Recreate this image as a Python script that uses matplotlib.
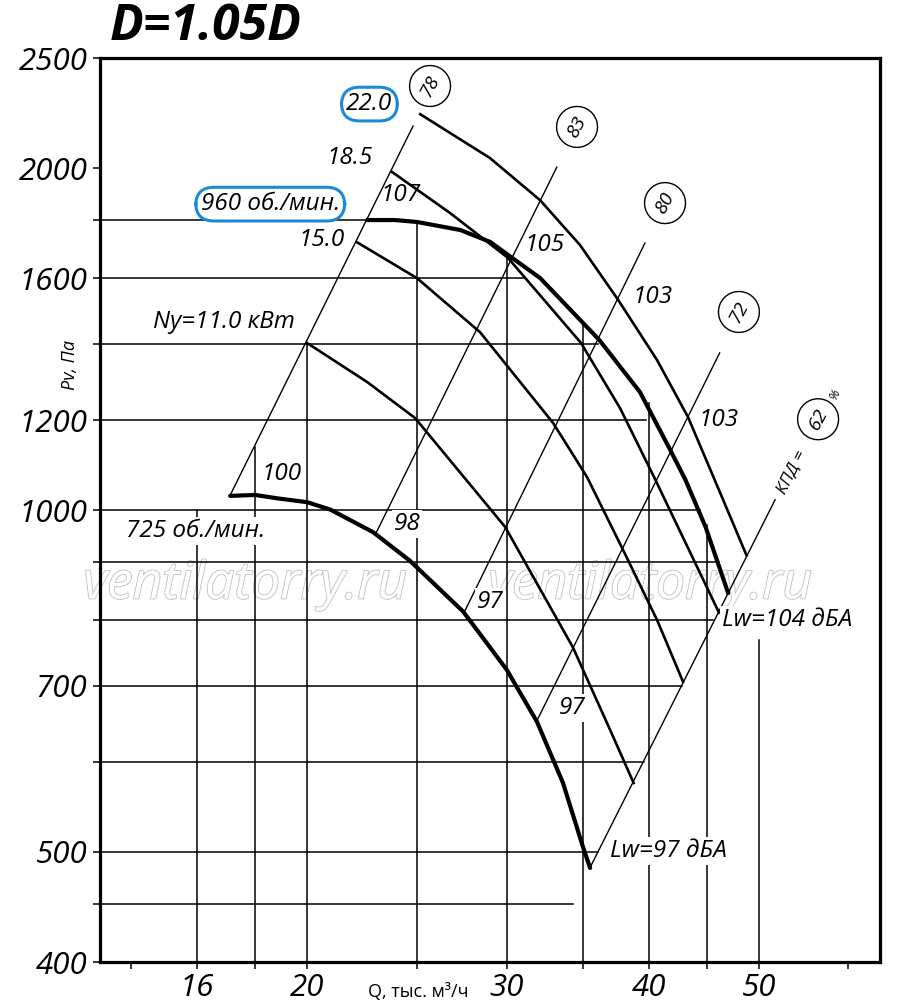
import matplotlib
matplotlib.use('Agg')
import matplotlib.pyplot as plt
import matplotlib.patheffects as pe
from matplotlib.ticker import FixedLocator, FixedFormatter, NullLocator

plt.rcParams['font.family'] = ['Open Sans', 'DejaVu Sans']
plt.rcParams['font.style'] = 'italic'

# fan curves: Q (thousand m3/h) vs Pv (Pa)
q_22 = [25.16, 28.99, 32.09, 34.80, 37.60, 40.69, 43.33, 46.52, 48.79]
p_22 = [2231, 2041, 1874, 1711, 1531, 1355, 1207, 1021, 912]
q_185 = [23.77, 26.73, 30.07, 34.87, 37.75, 40.44, 46.14]
p_185 = [1984, 1826, 1667, 1403, 1229, 1069, 812]
q_960 = [22.6, 23.9, 25.0, 27.3, 29.0, 30.2, 32.1, 36.2, 39.3, 41.8, 43.1, 44.9, 47.0]
p_960 = [1800, 1800, 1793, 1764, 1722, 1672, 1600, 1411, 1270, 1129, 1063, 966, 845]
q_15 = [22.13, 25.0, 28.41, 32.95, 35.30, 37.98, 40.69, 42.89]
p_15 = [1721, 1600, 1434, 1193, 1069, 922, 800, 706]
q_11 = [20.0, 22.6, 24.9, 29.9, 34.3, 37.0, 38.8]
p_11 = [1403, 1296, 1205, 966, 757, 640, 575]
q_725 = [17.11, 18.0, 18.82, 20.0, 20.96, 22.87, 24.65, 27.45, 28.99, 30.0, 31.89, 33.62, 35.01, 35.52]
p_725 = [1029, 1031, 1024, 1016, 1001, 956, 902, 814, 757, 723, 651, 575, 505, 484]

# efficiency lines (start on 725 curve, end above 960 curves)
eff_labels = ['78', '83', '80', '72', '62']
eff_q0 = [17.1, 23.0, 27.5, 31.9, 35.5]
eff_p0 = [1029, 954, 812, 653, 484]
eff_q1 = [24.8, 33.2, 39.7, 46.2, 51.7]
eff_p1 = [2178, 2004, 1718, 1375, 1021]

# partial grid lines
hgrid_p = [450, 500, 600, 700, 800, 900, 1000, 1200, 1400, 1600, 1800]
hgrid_q_end = [34.3, 36.1, 39.6, 42.8, 45.6, 46.1, 44.4, 39.8, 36.1, 31.1, 22.6]
vgrid_q = [16, 18, 20, 25, 30, 35, 40, 45, 50]
vgrid_p_top = [1000, 1136, 1403, 1793, 1666, 1464, 1242, 970, 768]

x_ticks = [14, 16, 18, 20, 25, 30, 35, 40, 45, 50, 60]
x_ticklabels = ['', '16', '', '20', '', '30', '', '40', '', '50', '']
y_ticks = [400, 450, 500, 600, 700, 800, 900, 1000, 1200, 1400, 1600, 1800, 2000, 2500]
y_ticklabels = ['400', '', '500', '', '700', '', '', '1000', '1200', '', '1600', '', '2000', '2500']

fig = plt.figure(figsize=(9, 10.08), dpi=100)
ax = fig.add_axes([100 / 900, 1 - 962 / 1008, 780 / 900, 904 / 1008])
ax.set_xscale('log')
ax.set_yscale('log')
ax.set_xlim(13.14, 63.96)
ax.set_ylim(400, 2500)
x0 = ax.get_xlim()[0]
y0 = ax.get_ylim()[0]

for sp in ax.spines.values():
    sp.set_linewidth(2.3)

ax.xaxis.set_major_locator(FixedLocator(x_ticks))
ax.xaxis.set_major_formatter(FixedFormatter(x_ticklabels))
ax.yaxis.set_major_locator(FixedLocator(y_ticks))
ax.yaxis.set_major_formatter(FixedFormatter(y_ticklabels))
ax.xaxis.set_minor_locator(NullLocator())
ax.yaxis.set_minor_locator(NullLocator())
ax.tick_params(direction='out', length=5, width=1.1, labelsize=22.5)
ax.tick_params(axis='y', pad=4)
ax.tick_params(axis='x', pad=3)

# grid
for p, qe in zip(hgrid_p, hgrid_q_end):
    ax.plot([x0, qe], [p, p], color='black', lw=1.1, zorder=1)
for q, pt in zip(vgrid_q, vgrid_p_top):
    ax.plot([q, q], [y0, pt], color='black', lw=1.1, zorder=1)

# efficiency lines
for qa, qb, pa, pb in zip(eff_q0, eff_q1, eff_p0, eff_p1):
    ax.plot([qa, qb], [pa, pb], color='black', lw=1.0, zorder=2)

# curves
thin = dict(color='black', lw=1.9, zorder=3, solid_joinstyle='round')
thick = dict(color='black', lw=3.0, zorder=3, solid_joinstyle='round', solid_capstyle='round')
ax.plot(q_22, p_22, **thin)
ax.plot(q_185, p_185, **thin)
ax.plot(q_15, p_15, **thin)
ax.plot(q_11, p_11, **thin)
ax.plot(q_960, p_960, **thick)
ax.plot(q_725, p_725, **thick)

white = dict(boxstyle='square,pad=0.08', fc='white', ec='none')
blue = dict(boxstyle='round,pad=0.2,rounding_size=0.75', fc='white', ec='#1a8ad4', lw=2.2)
circ = dict(boxstyle='circle,pad=0.5', fc='white', ec='black', lw=1.0)


def lab(q, p, s, size=17.5, **kw):
    ax.text(q, p, s, fontsize=size, ha=kw.pop('ha', 'center'), va=kw.pop('va', 'center'),
            zorder=5, **kw)


lab(22.7, 2277, '22.0', bbox=blue)
lab(18.56, 1859, '960 об./мин.', bbox=blue)
lab(21.8, 2041, '18.5')
lab(24.2, 1893, '107')
lab(20.6, 1728, '15.0')
lab(16.9, 1464, 'Ny=11.0 кВт')
lab(19.0, 1076, '100')
lab(15.94, 958, '725 об./мин.', bbox=white)
lab(24.5, 972, '98', bbox=white)
lab(32.4, 1711, '105')
lab(40.3, 1540, '103')
lab(46.05, 1200, '103')
lab(29.0, 830, '97', bbox=white)
lab(34.24, 669, '97', bbox=white)
lab(46.4, 800, 'Lw=104 дБА', ha='left', bbox=white)
lab(36.99, 501, 'Lw=97 дБА', ha='left', bbox=white)

# circled efficiency values
circ_q = [25.67, 34.59, 41.35, 48.04, 56.41]
circ_p = [2362, 2174, 1863, 1494, 1202]
for q, p, s in zip(circ_q, circ_p, eff_labels):
    ax.text(q, p, s, fontsize=14, rotation=62, ha='center', va='center',
            bbox=circ, zorder=5, rotation_mode='anchor')
lab(53.4, 1080, 'КПД =', size=12.5, rotation=63, rotation_mode='anchor')
lab(58.4, 1265, '%', size=9, rotation=63, rotation_mode='anchor')

# watermark
for q in [17.64, 40.11]:
    ax.text(q, 859, 'ventilatorry.ru', fontsize=37, color='white', ha='center', va='center',
            zorder=0.5, path_effects=[pe.Stroke(linewidth=1.3, foreground='#c4c4c4'), pe.Normal()])

fig.text(110 / 900, 1 - 40 / 1008, 'D=1.05D', fontsize=36, fontweight='bold', ha='left', va='baseline')
fig.text(418 / 900, 1 - 997 / 1008, 'Q, тыс. м³/ч', fontsize=13, style='normal', ha='center', va='baseline')
fig.text(70 / 900, 1 - 365 / 1008, 'Pv, Па', fontsize=13, rotation=90, ha='center', va='center')

fig.savefig('out.png', dpi=100)
